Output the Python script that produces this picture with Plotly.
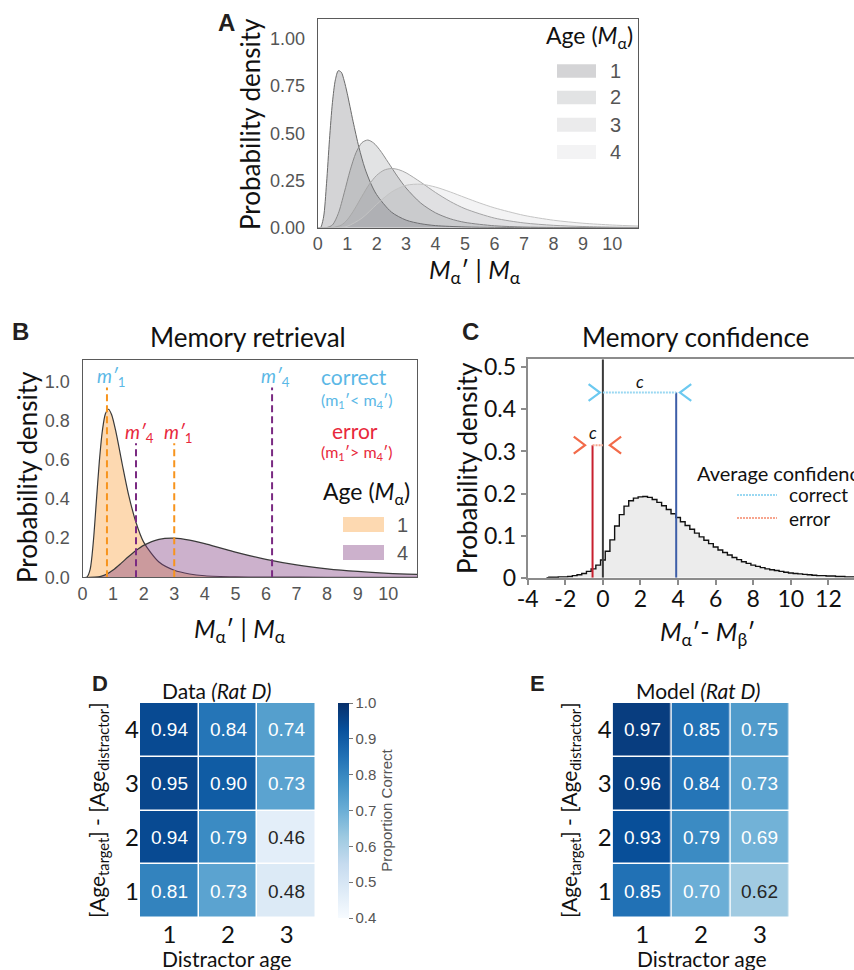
import plotly.graph_objects as go

W, H = 854, 970
def px(x): return x / W
def py(y): return 1 - y / H

LATO = "Lato, 'Open Sans', sans-serif"
ARIAL = "'Liberation Sans', Arial, sans-serif"

# ---------------- Panel A : density of retrieved age per true age ----------------
a1_x = [0.05, 0.1, 0.2, 0.3, 0.4, 0.5, 0.6, 0.7, 0.8, 0.9, 1.0, 1.2, 1.4, 1.6, 1.8, 2.0, 2.5, 3.0, 3.5, 4.0, 5.0, 6.0, 8.0, 10.9]
a1_y = [0.0, 0.0015, 0.057, 0.235, 0.467, 0.662, 0.783, 0.831, 0.823, 0.777, 0.712, 0.563, 0.425, 0.315, 0.235, 0.175, 0.083, 0.040, 0.021, 0.011, 0.004, 0.0015, 0.0003, 0.0]
a2_x = [0.0, 0.3, 0.5, 0.7, 0.9, 1.1, 1.3, 1.5, 1.7, 1.9, 2.1, 2.4, 2.7, 3.0, 3.5, 4.0, 4.5, 5.0, 6.0, 7.0, 8.0, 9.0, 10.9]
a2_y = [0.0, 0.0004, 0.0144, 0.0756, 0.185, 0.303, 0.397, 0.450, 0.464, 0.448, 0.413, 0.344, 0.273, 0.210, 0.130, 0.0786, 0.047, 0.028, 0.0101, 0.0038, 0.0015, 0.0006, 0.0001]
a3_x = [0.0, 0.5, 0.8, 1.0, 1.25, 1.5, 1.75, 2.0, 2.25, 2.5, 2.75, 3.0, 3.5, 4.0, 4.5, 5.0, 6.0, 7.0, 8.0, 9.0, 10.0, 10.9]
a3_y = [0.0, 0.0006, 0.0137, 0.0413, 0.0979, 0.166, 0.2296, 0.277, 0.3045, 0.3134, 0.3071, 0.2904, 0.2405, 0.1862, 0.1385, 0.1005, 0.0508, 0.0252, 0.0126, 0.0063, 0.0032, 0.0017]
a4_x = [0.0, 0.6, 0.8, 1.0, 1.5, 2.0, 2.5, 3.0, 3.5, 4.0, 4.5, 5.0, 5.5, 6.0, 7.0, 8.0, 9.0, 10.0, 10.9]
a4_y = [0.0, 0.0003, 0.0019, 0.0074, 0.0504, 0.1231, 0.1884, 0.2243, 0.2302, 0.2151, 0.1891, 0.1595, 0.1307, 0.1050, 0.0653, 0.0396, 0.0237, 0.0142, 0.0088]
a_ages = ["1", "2", "3", "4"]

# ---------------- Panel B : memory retrieval ----------------
b1_x = [0.1, 0.15, 0.25, 0.35, 0.45, 0.55, 0.65, 0.75, 0.85, 0.95, 1.1, 1.3, 1.5, 1.75, 2.0, 2.5, 3.0, 3.5, 4.0, 5.0, 6.0, 8.0, 11.0]
b1_y = [0.0, 0.0018, 0.0404, 0.174, 0.3816, 0.5914, 0.7492, 0.8367, 0.8592, 0.8328, 0.7387, 0.578, 0.427, 0.280, 0.18, 0.078, 0.036, 0.017, 0.008, 0.0025, 0.001, 0.0002, 0.0]
b4_x = [0.2, 0.4, 0.6, 0.8, 1.0, 1.25, 1.5, 1.75, 2.0, 2.5, 3.0, 3.5, 4.0, 4.5, 5.0, 6.0, 7.0, 8.0, 9.0, 10.0, 11.0]
b4_y = [0.0, 0.0006, 0.005, 0.0171, 0.0372, 0.070, 0.1051, 0.1372, 0.1633, 0.1941, 0.2001, 0.1902, 0.1720, 0.1505, 0.129, 0.0914, 0.0632, 0.0434, 0.0298, 0.0205, 0.0143]
b_ages = ["1", "4"]
# sampled retrievals (m') for the correct and error examples
corr_m1, corr_m4 = 0.8, 6.2
err_m4, err_m1 = 1.75, 3.0
corr_top, err_top = 0.97, 0.685

# ---------------- Panel C : memory confidence histogram ----------------
c_x = [-3.0, -2.75, -2.5, -2.25, -2.0, -1.75, -1.5, -1.25, -1.0, -0.75, -0.5, -0.25,
       0.0, 0.25, 0.5, 0.75, 1.0, 1.25, 1.5, 1.75, 2.0, 2.25, 2.5, 2.75, 3.0, 3.25, 3.5, 3.75,
       4.0, 4.25, 4.5, 4.75, 5.0, 5.25, 5.5, 5.75, 6.0, 6.25, 6.5, 6.75, 7.0, 7.25, 7.5, 7.75,
       8.0, 8.25, 8.5, 8.75, 9.0, 9.25, 9.5, 9.75, 10.0, 10.25, 10.5, 10.75, 11.0, 11.25, 11.5, 11.75,
       12.0, 12.25, 12.5, 12.75, 13.0, 13.25, 13.5]
c_y = [0.000, 0.001, 0.001, 0.002, 0.002, 0.003, 0.005, 0.007, 0.010, 0.015, 0.021, 0.030,
       0.042, 0.063, 0.090, 0.123, 0.150, 0.170, 0.183, 0.189, 0.192, 0.193, 0.191, 0.186, 0.179, 0.171, 0.162, 0.152,
       0.143, 0.133, 0.124, 0.115, 0.106, 0.097, 0.089, 0.081, 0.073, 0.066, 0.060, 0.054, 0.048, 0.043, 0.038, 0.034,
       0.030, 0.027, 0.024, 0.021, 0.019, 0.017, 0.015, 0.013, 0.011, 0.010, 0.009, 0.008, 0.007, 0.006, 0.005, 0.005,
       0.004, 0.004, 0.003, 0.003, 0.002, 0.002, 0.002]
conf_correct, conf_error = 3.9, -0.55
conf_correct_h, conf_error_h = 0.44, 0.315
c_ticks = [-4, -2, 0, 2, 4, 6, 8, 10, 12]

# ---------------- Panels D / E : proportion correct ----------------
distractor_age = [1, 2, 3]
age_diff = [4, 3, 2, 1]
data_d = [[0.94, 0.84, 0.74],
          [0.95, 0.90, 0.73],
          [0.94, 0.79, 0.46],
          [0.81, 0.73, 0.48]]
model_e = [[0.97, 0.85, 0.75],
           [0.96, 0.84, 0.73],
           [0.93, 0.79, 0.69],
           [0.85, 0.70, 0.62]]
blues = ['#f7fbff', '#deebf7', '#c6dbef', '#9ecae1', '#6baed6', '#4292c6', '#2171b5', '#08519c', '#08306b']

fig = go.Figure()

# ---- A traces
a_fill = ['rgba(120,122,128,0.32)', 'rgba(120,122,128,0.21)', 'rgba(120,122,128,0.15)', 'rgba(120,122,128,0.09)']
a_line = ['#6a6a6a', '#8a8a8a', '#a8a8a8', '#c4c4c4']
for xs, ys, fc, lc in zip([a1_x, a2_x, a3_x, a4_x], [a1_y, a2_y, a3_y, a4_y], a_fill, a_line):
    fig.add_trace(go.Scatter(x=xs, y=ys, xaxis='x', yaxis='y', mode='lines',
                             line=dict(color=lc, width=1, shape='spline', smoothing=0.8),
                             fill='tozeroy', fillcolor=fc, showlegend=False, hoverinfo='skip'))

# ---- B traces
b_fill = ['rgba(250,160,60,0.4)', 'rgba(128,60,128,0.4)']
for xs, ys, fc in zip([b1_x, b4_x], [b1_y, b4_y], b_fill):
    fig.add_trace(go.Scatter(x=xs, y=ys, xaxis='x2', yaxis='y2', mode='lines',
                             line=dict(color='#3a3a3a', width=1.2, shape='spline', smoothing=0.8),
                             fill='tozeroy', fillcolor=fc, showlegend=False, hoverinfo='skip'))
ORANGE, PURPLE = '#f7941d', '#7a2a82'
for xv, top, col in [(corr_m1, corr_top, ORANGE), (corr_m4, corr_top, PURPLE),
                     (err_m4, err_top, PURPLE), (err_m1, err_top, ORANGE)]:
    fig.add_trace(go.Scatter(x=[xv, xv], y=[0, top], xaxis='x2', yaxis='y2', mode='lines',
                             line=dict(color=col, width=2, dash='7px,4px'), showlegend=False, hoverinfo='skip'))

# ---- C traces
C_TOP = 0.519
fig.add_trace(go.Scatter(x=c_x, y=c_y, xaxis='x3', yaxis='y3', mode='lines',
                         line=dict(color='#111111', width=1.4, shape='hvh'),
                         fill='tozeroy', fillcolor='#ececec', showlegend=False, hoverinfo='skip'))
fig.add_trace(go.Scatter(x=[0, 0], y=[0, C_TOP], xaxis='x3', yaxis='y3', mode='lines',
                         line=dict(color='#3a3a3a', width=2), showlegend=False, hoverinfo='skip'))
fig.add_trace(go.Scatter(x=[conf_error, conf_error], y=[0, conf_error_h], xaxis='x3', yaxis='y3', mode='lines',
                         line=dict(color='#c8202f', width=2), showlegend=False, hoverinfo='skip'))
fig.add_trace(go.Scatter(x=[conf_correct, conf_correct], y=[0, conf_correct_h], xaxis='x3', yaxis='y3', mode='lines',
                         line=dict(color='#3d5ea8', width=2), showlegend=False, hoverinfo='skip'))
LBLUE, LBLUE_D, SALMON, SALMON_D = '#6cc9f0', '#9ad8f2', '#f26b4a', '#f7a58e'
fig.add_trace(go.Scatter(x=[0, conf_correct], y=[conf_correct_h, conf_correct_h], xaxis='x3', yaxis='y3', mode='lines',
                         line=dict(color=LBLUE_D, width=2, dash='2px,1px'), showlegend=False, hoverinfo='skip'))
fig.add_trace(go.Scatter(x=[conf_error, 0], y=[conf_error_h, conf_error_h], xaxis='x3', yaxis='y3', mode='lines',
                         line=dict(color=SALMON_D, width=2, dash='2px,1px'), showlegend=False, hoverinfo='skip'))
# chevrons bracketing the confidence spans
chev_w, chev_h = 0.6, 0.02
for lo, hi, yy, col, gl, gr in [(0, conf_correct, conf_correct_h, LBLUE, 0.16, 0.2),
                                (conf_error, 0, conf_error_h, SALMON, 0.4, 0.37)]:
    lt = lo - gl
    fig.add_trace(go.Scatter(x=[lt - chev_w, lt, lt - chev_w], y=[yy + chev_h, yy, yy - chev_h],
                             xaxis='x3', yaxis='y3', mode='lines', line=dict(color=col, width=2.2),
                             showlegend=False, hoverinfo='skip'))
    rt = hi + gr
    fig.add_trace(go.Scatter(x=[rt + chev_w, rt, rt + chev_w], y=[yy + chev_h, yy, yy - chev_h],
                             xaxis='x3', yaxis='y3', mode='lines', line=dict(color=col, width=2.2),
                             showlegend=False, hoverinfo='skip'))

# ---- D / E heatmaps
fig.add_trace(go.Heatmap(z=data_d, x=distractor_age, y=age_diff, xaxis='x4', yaxis='y4',
                         colorscale=blues, zmin=0.4, zmax=1.0, xgap=1.5, ygap=1.5, hoverinfo='skip',
                         colorbar=dict(x=px(338), xanchor='left', y=py(918), yanchor='bottom',
                                       len=(918 - 703) / H, lenmode='fraction', thickness=11,
                                       outlinewidth=0, xpad=0, ypad=0,
                                       tickvals=[0.4, 0.5, 0.6, 0.7, 0.8, 0.9, 1.0],
                                       ticktext=['0.4', '0.5', '0.6', '0.7', '0.8', '0.9', '1.0'],
                                       ticks='outside', ticklen=4, tickcolor='#777', tickwidth=1,
                                       tickfont=dict(family=ARIAL, size=15, color='#555'),
                                       title=dict(text='Proportion Correct', side='right',
                                                  font=dict(family=ARIAL, size=15, color='#555')))))
fig.add_trace(go.Heatmap(z=model_e, x=distractor_age, y=age_diff, xaxis='x5', yaxis='y5',
                         colorscale=blues, zmin=0.4, zmax=1.0, xgap=1.5, ygap=1.5, hoverinfo='skip',
                         showscale=False))

ann = []
for z, xr, yr in [(data_d, 'x4', 'y4'), (model_e, 'x5', 'y5')]:
    for i, row in enumerate(z):
        for j, v in enumerate(row):
            ann.append(dict(x=distractor_age[j], y=age_diff[i], xref=xr, yref=yr, text=f"{v:.2f}",
                            showarrow=False, font=dict(family=ARIAL, size=19,
                                                       color='white' if v >= 0.65 else '#262626')))

def T(x, y, text, size, color='#111', family=LATO, angle=0, xanchor='center', yanchor='middle'):
    ann.append(dict(x=px(x), y=py(y), xref='paper', yref='paper', text=text, showarrow=False,
                    textangle=angle, xanchor=xanchor, yanchor=yanchor,
                    font=dict(family=family, size=size, color=color)))

# panel letters
for x, y, t, s in [(226, 22, 'A', 24), (20, 331, 'B', 24), (471, 331, 'C', 24), (100, 683, 'D', 22), (537, 683, 'E', 22)]:
    T(x, y, f"<b>{t}</b>", s, '#231f20', ARIAL)

MA = "<i>M</i><sub>α</sub>′ | <i>M</i><sub>α</sub>"
# A
T(250, 124, "Probability density", 26, angle=-90)
T(475, 271, MA, 25)
T(589, 37, "Age (<i>M</i><sub>α</sub>)", 23)
a_sw_y = [(64.3, 77.7), (90.7, 104.3), (117.7, 131.7), (145, 159)]
shapes = []
for (y0, y1), fc, lab in zip(a_sw_y, a_fill, a_ages):
    shapes.append(dict(type='rect', xref='paper', yref='paper', x0=px(557), x1=px(596), y0=py(y1), y1=py(y0),
                       fillcolor=fc, line=dict(width=0)))
    T(615, (y0 + y1) / 2, lab, 20, '#555', ARIAL)

# B
T(248, 337, "Memory retrieval", 26)
T(27, 477, "Probability density", 26, angle=-90)
T(240, 630, MA, 25)
T(354, 377, "correct", 21, '#5bb8e6')
T(357, 400, "(m<sub>1</sub>′< m<sub>4</sub>′)", 16, '#5bb8e6')
T(355, 430, "error", 21, '#e8283c')
T(357, 452, "(m<sub>1</sub>′> m<sub>4</sub>′)", 16, '#e8283c')
T(366, 492, "Age (<i>M</i><sub>α</sub>)", 23)
for (y0, y1), fc, lab in zip([(517, 532), (545, 560)], b_fill, b_ages):
    shapes.append(dict(type='rect', xref='paper', yref='paper', x0=px(343), x1=px(384), y0=py(y1), y1=py(y0),
                       fillcolor=fc, line=dict(width=0)))
    T(402, (y0 + y1) / 2, lab, 20, '#555', ARIAL)
for xv, col, lab, yy in [(corr_m1, '#5bb8e6', '1', 1.026), (corr_m4, '#5bb8e6', '4', 1.026),
                         (err_m4, '#e8283c', '4', 0.736), (err_m1, '#e8283c', '1', 0.736)]:
    ann.append(dict(x=xv + 0.12, y=yy, xref='x2', yref='y2', text=f"<i>m′</i><sub>{lab}</sub>", showarrow=False,
                    font=dict(family=LATO, size=19, color=col)))

# C
T(695, 337, "Memory confidence", 26)
T(467, 468, "Probability density", 26, angle=-90)
T(707, 633, "<i>M</i><sub>α</sub>′- <i>M</i><sub>β</sub>′", 25)
ann.append(dict(x=(0 + conf_correct) / 2, y=conf_correct_h + 0.026, xref='x3', yref='y3', text="<i>c</i>",
                showarrow=False, font=dict(family=LATO, size=17, color='#111')))
ann.append(dict(x=conf_error + 0.05, y=conf_error_h + 0.03, xref='x3', yref='y3', text="<i>c</i>",
                showarrow=False, font=dict(family=LATO, size=17, color='#111')))
T(695, 473, "Average confidence", 20, xanchor='left')
shapes.append(dict(type='line', xref='paper', yref='paper', x0=px(737), x1=px(777), y0=py(495), y1=py(495),
                   line=dict(color=LBLUE_D, width=2, dash='2px,1px')))
shapes.append(dict(type='line', xref='paper', yref='paper', x0=px(737), x1=px(777), y0=py(518), y1=py(518),
                   line=dict(color=SALMON_D, width=2, dash='2px,1px')))
T(787, 495, "correct", 19, xanchor='left')
T(787, 518, "error", 19, xanchor='left')

# D / E
T(217, 690, "Data <i>(Rat D)</i>", 21)
T(698, 690, "Model <i>(Rat D)</i>", 21)
YT = "[Age<sub>target</sub>] - [Age<sub>distractor</sub>]"
T(98, 810, YT, 21, angle=-90)
T(570, 810, YT, 21, angle=-90)
T(227, 958, "Distractor age", 21)
T(702, 958, "Distractor age", 21)

frameA = dict(showline=True, linecolor='#5a5a5a', linewidth=1.3, mirror=True, showgrid=False, zeroline=False,
              ticks='', tickfont=dict(family=ARIAL, size=18, color='#555'))
frameC = dict(showline=True, linecolor='#8c8c8c', linewidth=2, showgrid=False, zeroline=False,
              ticks='outside', ticklen=5, tickwidth=1.5, tickcolor='#8c8c8c',
              tickfont=dict(family=LATO, size=23, color='#111'))
heat_ax = dict(showline=False, showgrid=False, zeroline=False, ticks='',
               tickfont=dict(family=LATO, size=24, color='#111'))

fig.update_layout(
    width=W, height=H, margin=dict(l=0, r=0, t=0, b=0), template='none',
    paper_bgcolor='white', plot_bgcolor='white', showlegend=False,
    xaxis=dict(domain=[px(317.7), px(638)], range=[0, 10.87], anchor='y',
               tickvals=list(range(0, 11)), ticklabelstandoff=0, **frameA),
    yaxis=dict(domain=[py(227.7), py(19.3)], range=[0, 1.103], anchor='x',
               tickvals=[0, 0.25, 0.5, 0.75, 1.0], tickformat='.2f', ticklabelstandoff=8, **frameA),
    xaxis2=dict(domain=[px(82.5), px(417)], range=[0, 10.94], anchor='y2',
                tickvals=list(range(0, 11)), ticklabelstandoff=0, **frameA),
    yaxis2=dict(domain=[py(577.3), py(360)], range=[0, 1.111], anchor='x2',
                tickvals=[0, 0.2, 0.4, 0.6, 0.8, 1.0], tickformat='.1f', ticklabelstandoff=8, **frameA),
    xaxis3=dict(domain=[px(527.7), 1.0], range=[-4, 13.36], anchor='y3', mirror=True,
                tickvals=c_ticks, ticktext=[str(t) for t in c_ticks], ticklabelstandoff=-5, **frameC),
    yaxis3=dict(domain=[py(577.7), py(359.3)], range=[0, C_TOP], anchor='x3',
                tickvals=[0, 0.1, 0.2, 0.3, 0.4, 0.5], ticktext=['0', '0.1', '0.2', '0.3', '0.4', '0.5'], **frameC),
    xaxis4=dict(domain=[px(140), px(316)], range=[0.5, 3.5], anchor='y4', tickvals=distractor_age, **heat_ax),
    yaxis4=dict(domain=[py(918), py(703)], range=[0.5, 4.5], anchor='x4', tickvals=age_diff, **heat_ax),
    xaxis5=dict(domain=[px(612.7), px(789.3)], range=[0.5, 3.5], anchor='y5', tickvals=distractor_age, **heat_ax),
    yaxis5=dict(domain=[py(918), py(703)], range=[0.5, 4.5], anchor='x5', tickvals=age_diff, **heat_ax),
    annotations=ann, shapes=shapes,
)

fig.write_html("out.html")
